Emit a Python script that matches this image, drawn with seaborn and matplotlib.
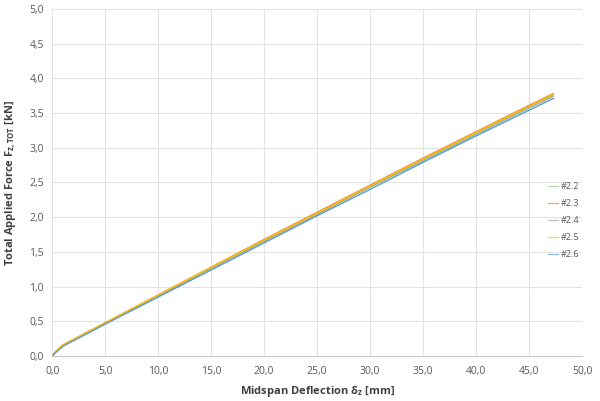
import numpy as np
import pandas as pd
import matplotlib
matplotlib.use('Agg')
import matplotlib.pyplot as plt
import seaborn as sns

# ── data (deflection in mm, force in kN) ──
deflection = [0.0, 0.3, 0.7, 1.0, 2.0, 3.0, 5.0, 10.0, 15.0, 20.0,
              25.0, 30.0, 35.0, 40.0, 45.0, 47.3]
f_22 = [0.0, 0.05, 0.11, 0.15, 0.23, 0.31, 0.47, 0.86, 1.26, 1.65, 2.04, 2.43, 2.81, 3.19, 3.57, 3.74]
f_23 = [0.0, 0.06, 0.12, 0.16, 0.24, 0.32, 0.48, 0.88, 1.28, 1.68, 2.07, 2.46, 2.85, 3.23, 3.61, 3.78]
f_24 = [0.0, 0.05, 0.11, 0.15, 0.23, 0.31, 0.47, 0.87, 1.27, 1.66, 2.05, 2.44, 2.83, 3.21, 3.59, 3.76]
f_25 = [0.0, 0.06, 0.12, 0.16, 0.24, 0.32, 0.48, 0.88, 1.28, 1.67, 2.06, 2.45, 2.84, 3.22, 3.60, 3.77]
f_26 = [0.0, 0.05, 0.10, 0.14, 0.22, 0.30, 0.46, 0.85, 1.24, 1.63, 2.02, 2.40, 2.79, 3.17, 3.54, 3.71]

specimens = ['#2.2', '#2.3', '#2.4', '#2.5', '#2.6']
series = [f_22, f_23, f_24, f_25, f_26]
colors = ['#9dbf92', '#ed7d31', '#a5a5a5', '#ffc000', '#5b9bd5']

df = pd.concat([pd.DataFrame({'x': deflection, 'F': s, 'spec': name})
                for name, s in zip(specimens, series)], ignore_index=True)

sns.set_style('white')
plt.rcParams['font.family'] = ['Open Sans', 'DejaVu Sans']
plt.rcParams['mathtext.default'] = 'regular'

fig = plt.figure(figsize=(6.0, 4.01), dpi=100)
ax = fig.add_axes([0.087, 0.112, 0.883, 0.866])

sns.lineplot(data=df, x='x', y='F', hue='spec', palette=colors,
             linewidth=1.0, sort=False, ax=ax, legend=True)

ax.set_xlim(0, 50)
ax.set_ylim(0, 5)
ax.set_xticks(np.arange(0, 50.1, 5))
ax.set_yticks(np.arange(0, 5.01, 0.5))
ax.set_xticklabels([f'{v:.1f}'.replace('.', ',') for v in np.arange(0, 50.1, 5)])
ax.set_yticklabels([f'{v:.1f}'.replace('.', ',') for v in np.arange(0, 5.01, 0.5)])
ax.grid(True, color='#e3e3e3', linewidth=0.8)
ax.set_axisbelow(True)
for side in ['top', 'right', 'left']:
    ax.spines[side].set_visible(False)
ax.spines['bottom'].set_color('#c8c8c8')
ax.tick_params(axis='x', length=3, color='#c8c8c8', labelsize=7.5, labelcolor='#595959', pad=4)
ax.tick_params(axis='y', length=0, labelsize=7.5, labelcolor='#595959', pad=6)

ax.set_xlabel(r'Midspan Deflection δ$_z$ [mm]', fontsize=8, fontweight='bold', color='#404040', labelpad=5)
ax.set_ylabel(r'Total Applied Force F$_{z,TOT}$ [kN]', fontsize=8, fontweight='bold', color='#404040', labelpad=8)

leg = ax.legend(loc='center left', bbox_to_anchor=(0.935, 0.39), frameon=False,
                fontsize=6.5, handlelength=1.2, handletextpad=0.3, labelspacing=0.9,
                borderpad=0, borderaxespad=0)
for t in leg.get_texts():
    t.set_color('#595959')
for l in leg.get_lines():
    l.set_linewidth(0.9)
    l.set_alpha(0.7)

fig.savefig('out.png', dpi=100)
